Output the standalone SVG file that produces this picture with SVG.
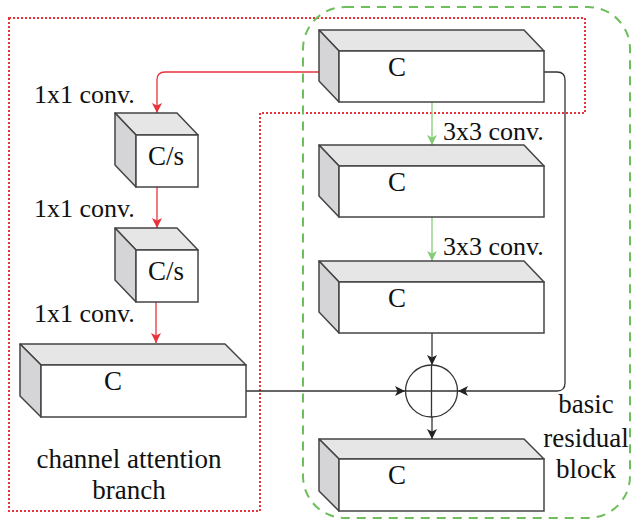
<svg xmlns="http://www.w3.org/2000/svg" width="636" height="524" viewBox="0 0 636 524">
<style>
.top{fill:#e6e6e6;stroke:#444;stroke-width:1.5;stroke-linejoin:round}
.side{fill:#d5d4d6;stroke:#444;stroke-width:1.5;stroke-linejoin:round}
.front{fill:#fff;stroke:#444;stroke-width:1.5}
text{font-family:'Liberation Serif','DejaVu Serif',serif;fill:#111}
.t{font-size:26px}
.lbl{font-size:27px;text-anchor:middle}
.red{fill:none;stroke:#e8333b;stroke-width:1.3}
.green{fill:none;stroke:#86cc78;stroke-width:1.3}
.blk{fill:none;stroke:#333;stroke-width:1.3}
</style>
<defs>
<marker id="ar" viewBox="0 0 10 10" refX="10" refY="5" markerWidth="10" markerHeight="10" markerUnits="userSpaceOnUse" orient="auto"><path d="M0,0 L10,5 L0,10 L2.5,5 z" fill="#e8333b"/></marker>
<marker id="ag" viewBox="0 0 10 10" refX="10" refY="5" markerWidth="10" markerHeight="10" markerUnits="userSpaceOnUse" orient="auto"><path d="M0,0 L10,5 L0,10 L2.5,5 z" fill="#86cc78"/></marker>
<marker id="ab" viewBox="0 0 10 10" refX="10" refY="5" markerWidth="10" markerHeight="10" markerUnits="userSpaceOnUse" orient="auto"><path d="M0,0 L10,5 L0,10 L2.5,5 z" fill="#222"/></marker>
</defs>
<g id="regions">
<path d="M9,18 H585 V113 H260 V511 H9 Z" fill="none" stroke="#e8333b" stroke-width="2" stroke-dasharray="2,2"/>
<rect x="303" y="7" width="327" height="511" rx="42" fill="none" stroke="#6cbf5a" stroke-width="2" stroke-dasharray="9,7"/>
</g>
<g id="connectors">
<path class="red" d="M319,72 H165 Q157,72 157,80 V113" marker-end="url(#ar)"/>
<path class="red" d="M157,187 V228" marker-end="url(#ar)"/>
<path class="red" d="M156,302 V343" marker-end="url(#ar)"/>
<path class="green" d="M432,102 V145" marker-end="url(#ag)"/>
<path class="green" d="M432,217 V261" marker-end="url(#ag)"/>
<path class="blk" d="M432,333 V365" marker-end="url(#ab)"/>
<path class="blk" d="M432,417 V439" marker-end="url(#ab)"/>
<path class="blk" d="M246,391 H405" marker-end="url(#ab)"/>
<path class="blk" d="M544,72 H557 Q565,72 565,80 V383 Q565,391 557,391 H458" marker-end="url(#ab)"/>
</g>
<g id="add">
<circle cx="431.5" cy="391" r="26" fill="none" stroke="#333" stroke-width="1.3"/>
<path class="blk" d="M431.5,365 V417 M405.5,391 H457.5"/>
</g>
<g id="box1">
<path class="top" d="M319,30 H524 L544,51 H339 Z"/>
<path class="side" d="M319,30 L339,51 V102 L319,81 Z"/>
<rect class="front" x="339" y="51" width="205" height="51"/>
<text class="lbl" x="397" y="76">C</text>
</g>
<g id="box2">
<path class="top" d="M319,145 H524 L544,166 H339 Z"/>
<path class="side" d="M319,145 L339,166 V217 L319,196 Z"/>
<rect class="front" x="339" y="166" width="205" height="51"/>
<text class="lbl" x="397" y="191">C</text>
</g>
<g id="box3">
<path class="top" d="M319,261 H524 L544,282 H339 Z"/>
<path class="side" d="M319,261 L339,282 V333 L319,312 Z"/>
<rect class="front" x="339" y="282" width="205" height="51"/>
<text class="lbl" x="397" y="307">C</text>
</g>
<g id="box4">
<path class="top" d="M319,439 H524 L544,459 H339 Z"/>
<path class="side" d="M319,439 L339,459 V511 L319,491 Z"/>
<rect class="front" x="339" y="459" width="205" height="52"/>
<text class="lbl" x="397" y="484">C</text>
</g>
<g id="cube1">
<path class="top" d="M115,113 H177 L198,135 H136 Z"/>
<path class="side" d="M115,113 L136,135 V187 L115,165 Z"/>
<rect class="front" x="136" y="135" width="62" height="52"/>
<text class="lbl" x="166" y="165">C/s</text>
</g>
<g id="cube2">
<path class="top" d="M115,228 H177 L198,250 H136 Z"/>
<path class="side" d="M115,228 L136,250 V302 L115,280 Z"/>
<rect class="front" x="136" y="250" width="62" height="52"/>
<text class="lbl" x="166" y="280">C/s</text>
</g>
<g id="boxleft">
<path class="top" d="M20,344 H225 L246,365 H41 Z"/>
<path class="side" d="M20,344 L41,365 V417 L20,396 Z"/>
<rect class="front" x="41" y="365" width="205" height="52"/>
<text class="lbl" x="113" y="390">C</text>
</g>
<g id="labels">
<text class="t" x="34" y="103">1x1 conv.</text>
<text class="t" x="34" y="217">1x1 conv.</text>
<text class="t" x="34" y="322">1x1 conv.</text>
<text class="t" x="443" y="140">3x3 conv.</text>
<text class="t" x="443" y="255">3x3 conv.</text>
<text class="lbl" x="129" y="468">channel attention</text>
<text class="lbl" x="129" y="499">branch</text>
<text class="lbl" x="586" y="413">basic</text>
<text class="lbl" x="586" y="447">residual</text>
<text class="lbl" x="586" y="478">block</text>
</g>
</svg>
